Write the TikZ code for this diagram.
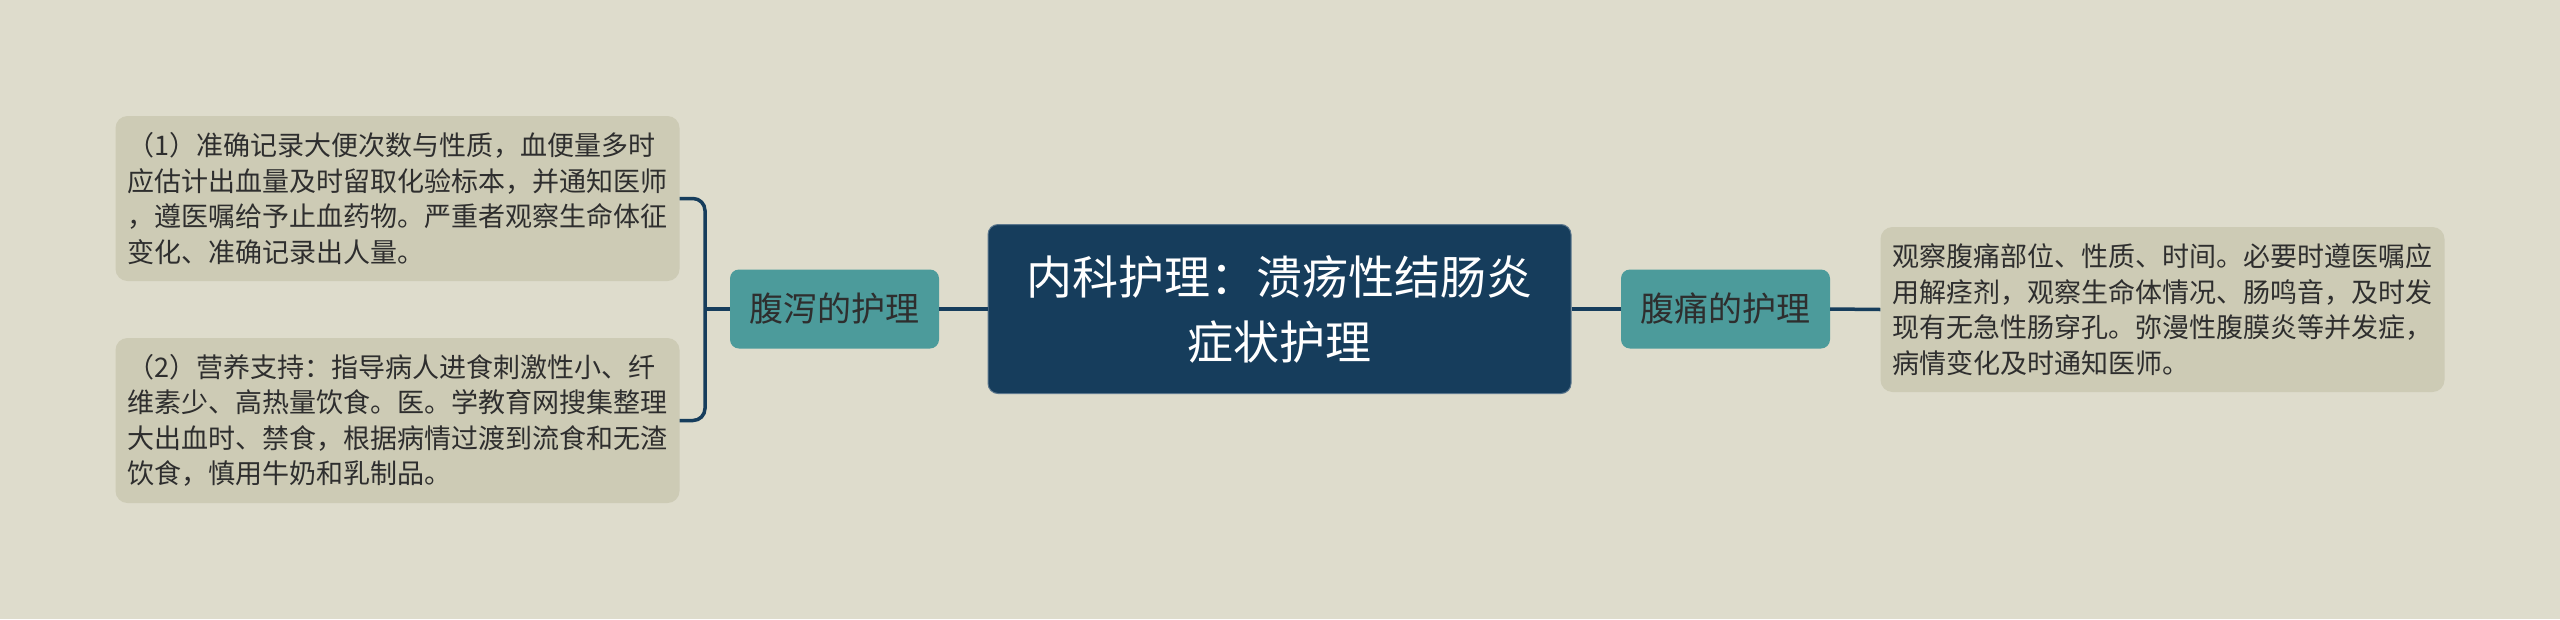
\documentclass[tikz,border=0pt]{standalone}
\usepackage{fontspec}
\setmainfont{Noto Sans CJK SC}
\definecolor{bg}{HTML}{DEDCCC}
\definecolor{leaf}{HTML}{CDCBB5}
\definecolor{tealn}{HTML}{4C9B9B}
\definecolor{navy}{HTML}{163D5C}
\definecolor{txt}{HTML}{2E2E2E}
\begin{document}
\begin{tikzpicture}[x=1pt,y=-1pt,
  leafbox/.style={fill=leaf, rounded corners=12pt, text width=540pt, inner xsep=12pt, inner ysep=0pt,
    minimum height=165pt, align=left, font=\fontsize{27}{35.5}\selectfont, text=txt},
  subbox/.style={fill=tealn, rounded corners=9pt, minimum width=209pt, minimum height=79pt, inner sep=0pt,
    font=\fontsize{34}{40}\selectfont, text=txt},
  rootbox/.style={fill=navy, draw=navy!70!white, line width=1pt, rounded corners=10pt, minimum width=583pt, minimum height=169pt,
    inner sep=0pt, align=center, font=\fontsize{46}{65}\selectfont, text=white},
  conn/.style={draw=navy, line width=3.5pt}]
\useasboundingbox[fill=bg] (0,0) rectangle (2560,619);
\node[rootbox] (c) at (1279.5,309) {内科护理：溃疡性结肠炎\\症状护理};
\node[subbox] (d) at (834.5,309) {腹泻的护理};
\node[subbox] (p) at (1725.5,309) {腹痛的护理};
\node[leafbox] (l1) at (397.5,198.5) {（1）准确记录大便次数与性质，血便量多时\\应估计出血量及时留取化验标本，并通知医师\\，遵医嘱给予止血药物。严重者观察生命体征\\变化、准确记录出人量。};
\node[leafbox] (l2) at (397.5,420.5) {（2）营养支持：指导病人进食刺激性小、纤\\维素少、高热量饮食。医。学教育网搜集整理\\大出血时、禁食，根据病情过渡到流食和无渣\\饮食，慎用牛奶和乳制品。};
\node[leafbox] (r1) at (2162.5,309.5) {观察腹痛部位、性质、时间。必要时遵医嘱应\\用解痉剂，观察生命体情况、肠鸣音，及时发\\现有无急性肠穿孔。弥漫性腹膜炎等并发症，\\病情变化及时通知医师。};
\coordinate (bx) at (705,309);
\draw[conn] (c.west) -- (d.east);
\draw[conn] (d.west) -- (bx);
\draw[conn, rounded corners=12pt] (l1.east) -- (l1.east -| bx) -- (l2.east -| bx) -- (l2.east);
\draw[conn] (c.east) -- (p.west);
\draw[conn] (p.east) -- (r1.west);
\end{tikzpicture}
\end{document}
